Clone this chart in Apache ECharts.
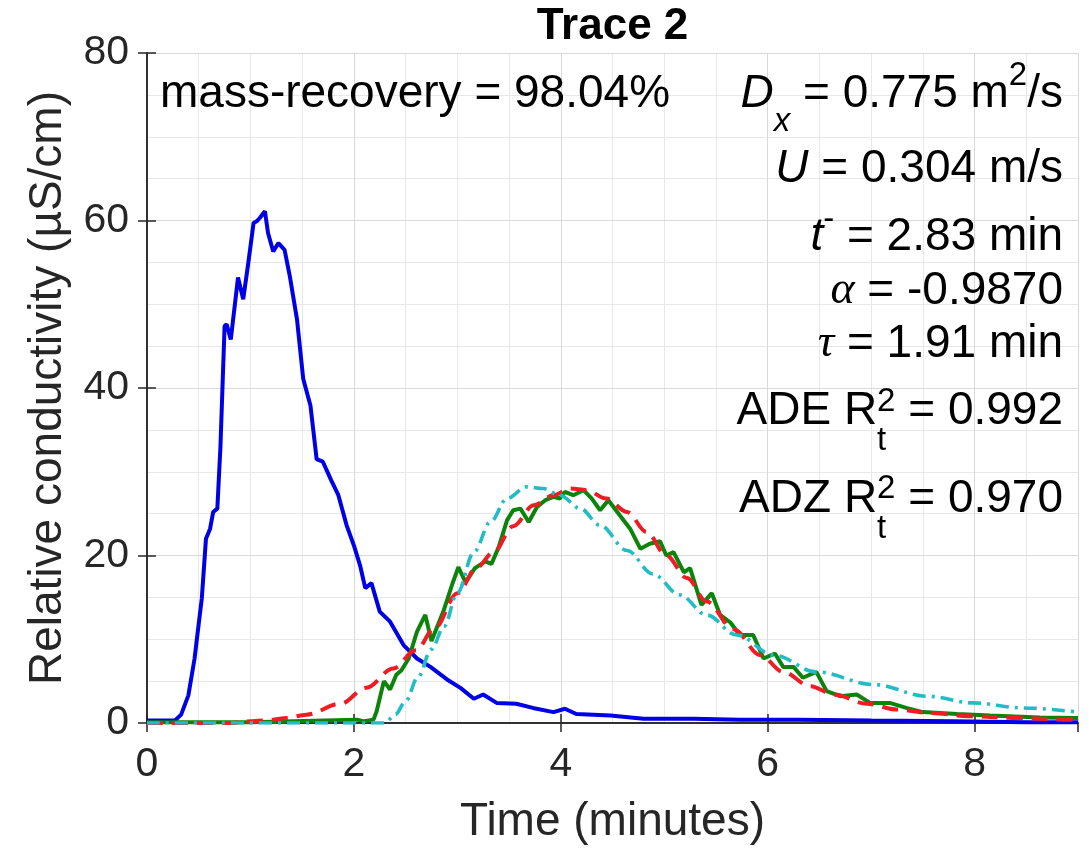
<!DOCTYPE html>
<html>
<head>
<meta charset="utf-8">
<script src="https://cdn.jsdelivr.net/npm/echarts@6/dist/echarts.min.js"></script>
<style>
  html, body { margin: 0; padding: 0; background: #fff; }
  #chart { width: 1089px; height: 850px; }
</style>
</head>
<body>
<div id="chart"></div>
<script>
// ---- Measured upstream trace (blue) ----
const upTime = [0, 0.27, 0.33, 0.40, 0.46, 0.48, 0.53, 0.57, 0.61, 0.64, 0.68, 0.71, 0.75, 0.77, 0.81, 0.88, 0.93, 0.98, 1.03, 1.06, 1.09, 1.14, 1.17, 1.22, 1.27, 1.33, 1.38, 1.45, 1.51, 1.58, 1.64, 1.70, 1.78, 1.85, 1.93, 2.00, 2.06, 2.11, 2.17, 2.25, 2.35, 2.48, 2.61, 2.74, 2.90, 3.03, 3.16, 3.25, 3.38, 3.57, 3.73, 3.93, 4.04, 4.15, 4.48, 4.80, 5.28, 5.73, 6.30, 7.00, 7.80, 8.50, 9.00];
const upCond = [0.3, 0.3, 1.0, 3.3, 7.7, 9.8, 14.9, 22.0, 23.2, 25.2, 25.6, 33.0, 47.4, 47.6, 45.8, 53.2, 50.6, 55.0, 59.7, 59.9, 60.3, 61.1, 58.5, 56.3, 57.3, 56.5, 53.4, 48.2, 41.1, 37.9, 31.5, 31.2, 29.0, 27.2, 23.6, 21.2, 18.8, 16.1, 16.7, 13.3, 12.1, 9.3, 7.7, 6.7, 5.2, 4.2, 2.9, 3.4, 2.4, 2.3, 1.8, 1.3, 1.7, 1.07, 0.9, 0.5, 0.5, 0.4, 0.4, 0.3, 0.2, 0.1, 0.1];

// ---- Measured downstream trace (green) ----
const downTime = [0, 1.00, 2.03, 2.10, 2.19, 2.22, 2.29, 2.35, 2.41, 2.46, 2.53, 2.61, 2.69, 2.75, 2.87, 2.96, 3.01, 3.08, 3.17, 3.27, 3.33, 3.40, 3.48, 3.54, 3.61, 3.69, 3.77, 3.85, 3.93, 3.99, 4.04, 4.12, 4.22, 4.30, 4.38, 4.46, 4.57, 4.67, 4.77, 4.86, 4.96, 5.02, 5.09, 5.19, 5.25, 5.36, 5.46, 5.54, 5.64, 5.73, 5.86, 5.96, 6.07, 6.15, 6.25, 6.34, 6.47, 6.57, 6.70, 6.86, 6.99, 7.18, 7.34, 7.50, 7.83, 8.15, 8.63, 9.00];
const downCond = [0.1, 0.1, 0.4, 0.2, 0.4, 1.4, 5.0, 4.0, 5.75, 6.3, 7.7, 10.9, 12.9, 9.8, 13.5, 16.9, 18.6, 16.8, 18.5, 19.3, 19.0, 21.0, 24.2, 25.4, 25.6, 24.0, 25.8, 26.6, 27.0, 26.8, 27.6, 27.2, 27.8, 26.8, 25.4, 26.6, 24.8, 23.2, 20.8, 21.4, 21.7, 20.0, 20.4, 18.0, 18.5, 14.1, 15.5, 12.9, 12.0, 10.5, 10.5, 7.7, 8.3, 6.7, 6.7, 5.4, 6.1, 3.8, 3.2, 3.4, 2.4, 2.4, 1.8, 1.3, 1.07, 0.9, 0.67, 0.6];

// ---- ADE model fit (red dashed) ----
const adeTime = [0, 0.80, 1.00, 1.22, 1.35, 1.54, 1.87, 2.12, 2.38, 2.60, 2.78, 3.00, 3.19, 3.35, 3.54, 3.74, 3.93, 4.09, 4.25, 4.44, 4.64, 4.83, 5.02, 5.22, 5.41, 5.67, 5.93, 6.15, 6.41, 6.64, 6.96, 7.25, 7.57, 7.95, 8.43, 8.85, 9.00];
const adeCond = [0, 0, 0.2, 0.4, 0.6, 1.0, 2.3, 4.2, 6.5, 8.7, 11.3, 15.5, 18.6, 20.4, 23.5, 26.0, 27.2, 28.0, 27.8, 26.8, 25.2, 22.8, 20.0, 17.3, 14.5, 11.2, 8.1, 6.1, 4.4, 3.4, 2.3, 1.6, 1.2, 0.8, 0.6, 0.4, 0.35];

// ---- ADZ model fit (cyan dash-dot) ----
const adzTime = [0, 2.30, 2.40, 2.50, 2.62, 2.75, 2.87, 3.00, 3.16, 3.32, 3.48, 3.67, 3.83, 3.99, 4.19, 4.38, 4.64, 4.89, 5.15, 5.41, 5.70, 6.06, 6.47, 7.02, 7.54, 7.99, 8.47, 9.00];
const adzCond = [0, 0, 1.0, 2.6, 5.5, 8.8, 11.5, 15.5, 20.4, 24.0, 26.8, 28.2, 28.0, 27.2, 25.6, 23.6, 20.6, 17.8, 15.3, 12.9, 10.5, 8.1, 6.1, 4.6, 3.2, 2.4, 1.8, 1.3];

// ---- Axis ticks ----
const xTicks = [0, 2, 4, 6, 8];
const yTicks = [0, 20, 40, 60, 80];

// ---- Fit summary text (runs: plain, italic, sub/superscripts) ----
const recoveryNote = [{ text: 'mass-recovery = 98.04%' }];
const fitNotes = [
  [{ text: 'D', it: true }, { sub: 'x', it: true }, { text: ' = 0.775 m' }, { sup: '2' }, { text: '/s' }],
  [{ text: 'U', it: true }, { text: ' = 0.304 m/s' }],
  [{ text: 't', it: true }, { sup: '-' }, { text: ' = 2.83 min' }],
  [{ text: 'α', it: true, serif: true }, { text: ' = -0.9870' }],
  [{ text: 'τ', it: true, serif: true }, { text: ' = 1.91 min' }],
  [{ text: 'ADE R' }, { sup: '2', sub: 't' }, { text: ' = 0.992' }],
  [{ text: 'ADZ R' }, { sup: '2', sub: 't' }, { text: ' = 0.970' }]
];

const zip = (a, b) => a.map((t, i) => [t, b[i]]);

const SANS = '"Liberation Sans", Arial, Helvetica, sans-serif';
const SERIF = '"Liberation Serif", "Times New Roman", serif';
const BIG = 46, SMALL = 33;
const AX = '#262626';

const G = { left: 147, right: 11, top: 53, bottom: 125 };
const W = 1089;

const mctx = document.createElement('canvas').getContext('2d');
function fontOf(size, italic, serif) {
  return (italic ? 'italic ' : '') + size + 'px ' + (serif ? SERIF : SANS);
}
function widthOf(str, font) { mctx.font = font; return mctx.measureText(str).width; }

// Lay out one line of runs; returns graphic text elements
function layoutLine(runs, baseline, anchorX, alignRight, supShift, subShift) {
  const pieces = runs.map(r => {
    if (r.text !== undefined) {
      const f = fontOf(BIG, r.it, r.serif);
      return { w: widthOf(r.text, f), parts: [{ s: r.text, f, size: BIG, dy: 0 }] };
    }
    const parts = [];
    let w = 0;
    if (r.sup !== undefined) {
      const f = fontOf(SMALL, r.it, r.serif);
      w = Math.max(w, widthOf(r.sup, f));
      parts.push({ s: r.sup, f, size: SMALL, dy: -supShift });
    }
    if (r.sub !== undefined) {
      const f = fontOf(SMALL, r.it, r.serif);
      w = Math.max(w, widthOf(r.sub, f));
      parts.push({ s: r.sub, f, size: SMALL, dy: subShift });
    }
    return { w, parts };
  });
  const total = pieces.reduce((s, p) => s + p.w, 0);
  let x = alignRight ? anchorX - total : anchorX;
  const els = [];
  pieces.forEach(p => {
    p.parts.forEach(pt => {
      els.push({
        type: 'text', x: x, y: baseline + pt.dy - 0.345 * pt.size, z: 100,
        style: { text: pt.s, font: pt.f, fill: '#000', textAlign: 'left', textVerticalAlign: 'middle' }
      });
    });
    x += p.w;
  });
  return els;
}

const noteX = 1063;
const noteBaselines = [110, 185, 253, 307, 360, 427, 515];
const supShifts = [23, 23, 22, 0, 0, 14, 15];
const subShifts = [23, 0, 0, 0, 0, 25, 25];

let graphics = [];
graphics = graphics.concat(layoutLine(recoveryNote, 110, 160, false, 0, 0));
fitNotes.forEach((runs, i) => {
  graphics = graphics.concat(layoutLine(runs, noteBaselines[i], noteX, true, supShifts[i], subShifts[i]));
});
graphics.push({
  type: 'text', x: G.left + (W - G.left - G.right) / 2, y: 27, z: 100,
  style: { text: 'Trace 2', font: 'bold 44px ' + SANS, fill: '#000', textAlign: 'center', textVerticalAlign: 'middle' }
});

const boxLine = { show: true, lineStyle: { color: AX, width: 1.5 } };
const inTick = { show: true, inside: true, length: 9, lineStyle: { color: AX, width: 1.5 } };

const chart = echarts.init(document.getElementById('chart'), null, { renderer: 'canvas' });
chart.setOption({
  animation: false,
  backgroundColor: '#fff',
  grid: G,
  xAxis: [
    {
      type: 'value', min: 0, max: 9, interval: 2, position: 'bottom',
      axisLine: boxLine, axisTick: inTick,
      axisLabel: {
        fontSize: 41, fontFamily: SANS, color: AX, margin: 21, showMaxLabel: false,
        formatter: v => (xTicks.includes(v) ? String(v) : '')
      },
      splitLine: { show: true, lineStyle: { color: '#d9d9d9', width: 1 } },
      name: 'Time (minutes)', nameLocation: 'middle', nameGap: 76,
      nameTextStyle: { fontSize: 46, fontFamily: SANS, color: AX }
    },
    {
      type: 'value', min: 0, max: 9, interval: 2, position: 'top',
      axisLine: boxLine, axisTick: inTick, axisLabel: { show: false }, splitLine: { show: false }
    },
    {
      type: 'value', min: 0, max: 9, interval: 0.5, position: 'bottom', show: true,
      axisLine: { show: false }, axisTick: { show: false }, axisLabel: { show: false },
      splitLine: { show: true, lineStyle: { color: '#e8e8e8', width: 1 } }, z: -1
    }
  ],
  yAxis: [
    {
      type: 'value', min: 0, max: 80, interval: 20, position: 'left',
      axisLine: boxLine, axisTick: inTick,
      axisLabel: {
        fontSize: 41, fontFamily: SANS, color: AX, margin: 18,
        formatter: v => (yTicks.includes(v) ? String(v) : '')
      },
      splitLine: { show: true, lineStyle: { color: '#d9d9d9', width: 1 } },
      name: 'Relative conductivity (µS/cm)', nameLocation: 'middle', nameGap: 76,
      nameTextStyle: { fontSize: 46, fontFamily: SANS, color: AX }
    },
    {
      type: 'value', min: 0, max: 80, interval: 20, position: 'right',
      axisLine: boxLine, axisTick: inTick, axisLabel: { show: false }, splitLine: { show: false }
    },
    {
      type: 'value', min: 0, max: 80, interval: 5, position: 'left', show: true,
      axisLine: { show: false }, axisTick: { show: false }, axisLabel: { show: false },
      splitLine: { show: true, lineStyle: { color: '#e8e8e8', width: 1 } }, z: -1
    }
  ],
  series: [
    {
      name: 'Upstream', type: 'line', data: zip(upTime, upCond), showSymbol: false,
      lineStyle: { color: '#0000e6', width: 4 }, itemStyle: { color: '#0000e6' }, z: 3
    },
    {
      name: 'Downstream', type: 'line', data: zip(downTime, downCond), showSymbol: false,
      lineStyle: { color: '#0c840c', width: 4 }, itemStyle: { color: '#0c840c' }, z: 4
    },
    {
      name: 'ADE', type: 'line', data: zip(adeTime, adeCond), showSymbol: false,
      smooth: 0.35, smoothMonotone: 'x',
      lineStyle: { color: '#ee1c24', width: 4, type: [16, 9] }, itemStyle: { color: '#ee1c24' }, z: 5
    },
    {
      name: 'ADZ', type: 'line', data: zip(adzTime, adzCond), showSymbol: false,
      smooth: 0.35, smoothMonotone: 'x',
      lineStyle: { color: '#22bcc4', width: 3.6, type: [13, 6, 3, 6] }, itemStyle: { color: '#22bcc4' }, z: 6
    }
  ],
  graphic: graphics
});
</script>
</body>
</html>
